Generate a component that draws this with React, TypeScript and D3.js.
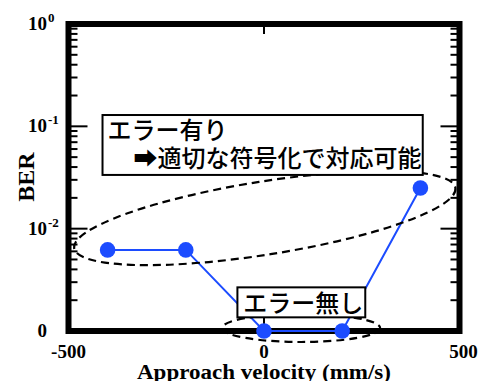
import React from "react";
import * as d3 from "d3";

// measured data (BER vs approach velocity)
const velocities = [-400, -200, 0, 200, 400];
const berValues = [0.0062, 0.0062, 0, 0, 0.025];

const xTicks = [-500, 0, 500];
const xTickLabels = ["-500", "0", "500"];
const yMajorTicks = [1e-3, 1e-2, 1e-1, 1];
const yTickBase = ["0", "10", "10", "10"];
const yTickExp = ["", "-2", "-1", "0"];

const xTitle = "Approach velocity (mm/s)";
const yTitle = "BER";

// annotation texts
const noteLines1 = ["エラー有り", "➡適切な符号化で対応可能"];
const noteLines2 = ["エラー無し"];

const W = 486;
const H = 381;
const left = 68.5, right = 459.5, top = 24, bottom = 331;
const blue = "#1c4cff";

export default function App() {
  const x = d3.scaleLinear().domain([-500, 500]).range([left, right]);
  const y = d3.scaleLog().domain([1e-3, 1]).range([bottom, top]);
  const yv = (v: number) => y(v <= 0 ? 1e-3 : v);

  const minor = y.ticks().filter((t) => !yMajorTicks.some((m) => Math.abs(m - t) / t < 1e-6));

  const pts = velocities.map((v, i) => [x(v), yv(berValues[i])] as [number, number]);
  const line = d3.line()(pts);

  const serif = "'Liberation Serif', 'Times New Roman', serif";
  const jp = "'Noto Sans CJK JP', sans-serif";

  // annotation geometry, anchored in data units
  const e1 = { cx: x(2), cy: y(0.0127), rx: 193, ry: 36.6, rot: -9 };
  const e2 = { cx: x(95), cy: y(0.00107), rx: 79, ry: 14 };
  const b1 = { x0: x(-413), x1: x(406), y0: y(0.129), y1: y(0.0335) };
  const b2 = { x0: x(-68), x1: x(259), y0: y(0.00267), y1: y(0.00136) };

  return (
    <svg
      width={W}
      height={H}
      style={{ position: "absolute", left: 0, top: 0, background: "#fff" }}
    >
      {/* minor / major ticks left and right */}
      {minor.map((t, i) => (
        <g key={"m" + i} stroke="#000" strokeWidth={2}>
          <line x1={left} x2={left + 3 + 6} y1={y(t)} y2={y(t)} />
          <line x1={right} x2={right - 3 - 6} y1={y(t)} y2={y(t)} />
        </g>
      ))}
      {yMajorTicks.slice(1, 3).map((t, i) => (
        <g key={"M" + i} stroke="#000" strokeWidth={2}>
          <line x1={left} x2={left + 3 + 16} y1={y(t)} y2={y(t)} />
          <line x1={right} x2={right - 3 - 16} y1={y(t)} y2={y(t)} />
        </g>
      ))}
      <line x1={x(0)} x2={x(0)} y1={bottom} y2={bottom - 13} stroke="#000" strokeWidth={2} />
      <line x1={x(0)} x2={x(0)} y1={top} y2={top + 10} stroke="#000" strokeWidth={2} />

      {/* frame */}
      <rect
        x={left}
        y={top}
        width={right - left}
        height={bottom - top}
        fill="none"
        stroke="#000"
        strokeWidth={6}
      />

      {/* y tick labels */}
      {yMajorTicks.map((t, i) => (
        <text
          key={"yl" + i}
          y={y(t) + 6}
          fontFamily={serif}
          fontWeight="bold"
          fontSize={19}
        >
          <tspan x={47} textAnchor="end">{yTickBase[i]}</tspan>
          {yTickExp[i] && (
            <tspan x={48} dy={-8} fontSize={13}>{yTickExp[i]}</tspan>
          )}
        </text>
      ))}

      {/* x tick labels */}
      {xTicks.map((t, i) => (
        <text
          key={"xl" + i}
          x={x(t) + (i === 2 ? 4 : 0)}
          y={358}
          textAnchor="middle"
          fontFamily={serif}
          fontWeight="bold"
          fontSize={19}
        >
          {xTickLabels[i]}
        </text>
      ))}

      {/* axis titles */}
      <text
        x={x(0)}
        y={379}
        textAnchor="middle"
        fontFamily={serif}
        fontWeight="bold"
        fontSize={20}
        textLength={254}
        lengthAdjust="spacingAndGlyphs"
      >
        {xTitle}
      </text>
      <text
        transform={`translate(34, ${177}) rotate(-90)`}
        textAnchor="middle"
        fontFamily={serif}
        fontWeight="bold"
        fontSize={24}
      >
        {yTitle}
      </text>

      {/* series */}
      <path d={line ?? ""} fill="none" stroke={blue} strokeWidth={2} />

      {/* dashed ellipses */}
      <ellipse
        cx={e1.cx}
        cy={e1.cy}
        rx={e1.rx}
        ry={e1.ry}
        transform={`rotate(${e1.rot} ${e1.cx} ${e1.cy})`}
        fill="none"
        stroke="#000"
        strokeWidth={2.2}
        strokeDasharray="8 5"
      />
      <ellipse
        cx={e2.cx}
        cy={e2.cy}
        rx={e2.rx}
        ry={e2.ry}
        fill="none"
        stroke="#000"
        strokeWidth={2.2}
        strokeDasharray="8 5"
      />

      {pts.map((p, i) => (
        <circle key={"p" + i} cx={p[0]} cy={p[1]} r={7.8} fill={blue} />
      ))}

      {/* annotation boxes */}
      <rect
        x={b1.x0}
        y={b1.y0}
        width={b1.x1 - b1.x0}
        height={b1.y1 - b1.y0}
        fill="#fff"
        stroke="#000"
        strokeWidth={2}
      />
      <text fontFamily={jp} fontSize={24} fontWeight={500} fill="#000">
        <tspan x={x(-400)} y={y(0.0734) - 1}>{noteLines1[0]}</tspan>
        <tspan x={x(-334)} y={y(0.04)}>{noteLines1[1]}</tspan>
      </text>
      <rect
        x={b2.x0}
        y={b2.y0}
        width={b2.x1 - b2.x0}
        height={b2.y1 - b2.y0}
        fill="#fff"
        stroke="#000"
        strokeWidth={2}
      />
      <text fontFamily={jp} fontSize={24} fontWeight={500} fill="#000">
        <tspan x={x(-53)} y={y(0.00151) - 1}>{noteLines2[0]}</tspan>
      </text>
    </svg>
  );
}
